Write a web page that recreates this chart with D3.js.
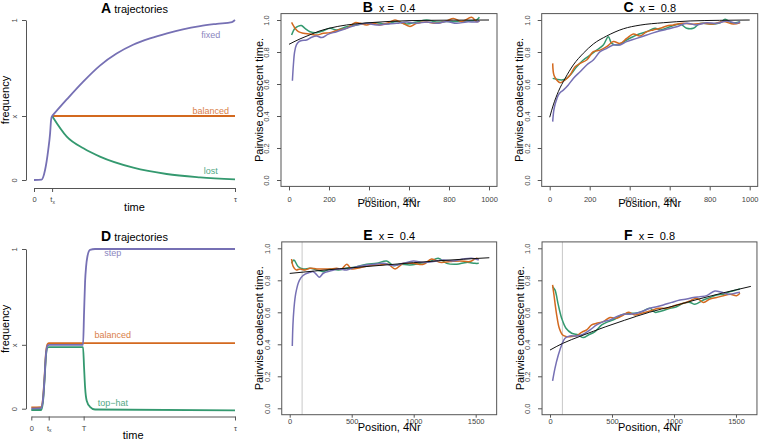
<!DOCTYPE html>
<html><head><meta charset="utf-8">
<script src="https://cdn.jsdelivr.net/npm/d3@7"></script>
<style>
body{margin:0;background:#fff}
svg{display:block}
text{font-family:"Liberation Sans",Arial,Helvetica,sans-serif;white-space:pre}
</style>
</head><body>
<svg id="c" width="760" height="442"></svg>
<script>
// ---------------- DATA ----------------
// Trajectory panels: time as fraction of tau, frequency 0..1
const xFreq = 0.4;
const A_tx = 0.09;
const A_rise = [[0,0],[0.038,0.003],[0.055,0.0625],[0.071,0.19],[0.080,0.29],[0.085,0.375],[0.090,0.4]];
const A_fixed = [[0.090,0.4],[0.164,0.505],[0.245,0.615],[0.328,0.715],[0.411,0.79],[0.493,0.845],[0.577,0.885],[0.662,0.917],[0.741,0.942],[0.826,0.962],[0.910,0.976],[0.985,0.987],[1.0,1.0]];
const A_balanced = [[0.090,0.4],[1.0,0.4]];
const A_lost = [[0.090,0.4],[0.163,0.271],[0.246,0.198],[0.328,0.146],[0.494,0.077],[0.660,0.0375],[0.826,0.017],[1.0,0.004]];
const A_labels = [["fixed",0.88,0.885],["balanced",0.88,0.41],["lost",0.88,0.04]];

const D_tx = 0.0854, D_T = 0.257;
const D_balanced = [[0,0.008],[0.048,0.01],[0.057,0.06],[0.065,0.2],[0.072,0.35],[0.080,0.405],[0.087,0.41],[1.0,0.41]];
const D_step = [[0,0],[0.048,0.003],[0.057,0.05],[0.065,0.19],[0.072,0.34],[0.080,0.395],[0.087,0.4],[0.254,0.4],[0.259,0.6],[0.264,0.795],[0.269,0.89],[0.275,0.95],[0.288,0.995],[0.313,1.0],[1.0,1.0]];
const D_tophat = [[0,-0.008],[0.048,-0.008],[0.057,0.04],[0.065,0.18],[0.072,0.33],[0.080,0.383],[0.087,0.385],[0.254,0.385],[0.259,0.26],[0.264,0.135],[0.272,0.05],[0.288,0.012],[0.313,-0.005],[1.0,-0.01]];
const D_labels = [["step",0.4,0.955],["balanced",0.4,0.44],["top\u2212hat",0.4,0.02]];

const trajYTicks = [0, xFreq, 1];
const trajYLabels = ["0","x","1"];

// Coalescent panels: [position 4Nr, pairwise coalescent time]
const B_theory = [[0,0.848],[50,0.879],[100,0.905],[150,0.93],[200,0.948],[288,0.969],[400,0.983],[500,0.991],[600,0.996],[800,0.999],[1000,1.0]];
const B_purple = [[17,0.62],[22,0.72],[28,0.8],[37,0.845],[50,0.865],[65,0.872],[88,0.875],[113,0.892],[138,0.9],[163,0.89],[197,0.912],[238,0.927],[288,0.948],[338,0.969],[388,0.979],[438,0.969],[488,0.975],[538,0.979],[588,0.988],[638,0.979],[688,0.988],[738,0.979],[788,0.99],[838,0.979],[888,0.988],[938,0.988],[952,0.994]];
const B_orange = [[13,0.985],[22,0.965],[30,0.948],[47,0.927],[72,0.917],[105,0.912],[138,0.906],[172,0.917],[205,0.921],[247,0.938],[288,0.948],[330,0.983],[355,0.979],[388,0.969],[422,0.979],[455,0.969],[497,0.983],[530,1.0],[563,0.983],[605,0.96],[638,0.979],[688,0.988],[738,0.979],[788,0.994],[822,1.01],[863,0.99],[913,1.017],[938,0.99],[952,0.994]];
const B_green = [[13,0.906],[30,0.948],[47,0.962],[62,0.965],[80,0.948],[105,0.927],[138,0.921],[172,0.933],[205,0.948],[238,0.938],[288,0.958],[338,0.969],[388,0.979],[438,0.983],[488,0.975],[538,0.99],[588,0.975],[638,0.988],[688,1.0],[738,0.988],[788,0.99],[838,0.99],[888,0.994],[938,1.0],[952,1.017]];

const C_theory = [[0,0.392],[18,0.469],[43,0.552],[77,0.635],[118,0.719],[168,0.792],[218,0.85],[285,0.9],[368,0.945],[452,0.968],[568,0.983],[702,0.994],[850,0.998],[1000,1.0]];
const C_purple = [[15,0.365],[20,0.43],[26,0.469],[35,0.505],[43,0.531],[55,0.55],[68,0.562],[93,0.594],[118,0.635],[152,0.677],[185,0.719],[218,0.75],[252,0.802],[285,0.823],[318,0.844],[352,0.844],[385,0.865],[435,0.885],[485,0.906],[535,0.927],[585,0.942],[635,0.958],[685,0.979],[735,0.969],[785,0.983],[835,0.979],[885,0.994],[935,0.979],[952,0.99]];
const C_orange = [[15,0.729],[21,0.656],[35,0.625],[52,0.608],[77,0.625],[102,0.656],[127,0.708],[152,0.729],[185,0.75],[218,0.802],[252,0.812],[285,0.833],[318,0.865],[352,0.854],[385,0.885],[418,0.912],[452,0.9],[485,0.927],[518,0.938],[552,0.948],[585,0.963],[618,0.969],[668,0.979],[718,0.973],[768,0.979],[818,0.975],[868,0.99],[918,0.975],[952,0.983]];
const C_green = [[15,0.635],[35,0.629],[60,0.625],[85,0.635],[110,0.667],[135,0.708],[168,0.75],[202,0.781],[235,0.812],[268,0.844],[293,0.896],[310,0.854],[343,0.844],[385,0.875],[435,0.906],[485,0.927],[527,0.948],[552,0.938],[602,0.958],[652,0.975],[685,0.948],[718,0.948],[752,0.979],[802,0.975],[852,0.983],[877,1.004],[910,0.983],[952,0.99]];

const E_theory = [[0,0.843],[200,0.858],[400,0.872],[728,0.893],[1000,0.91],[1200,0.922],[1400,0.932],[1610,0.941]];
const E_purple = [[21,0.39],[26,0.52],[34,0.62],[45,0.7],[56,0.745],[70,0.785],[90,0.815],[124,0.838],[164,0.85],[191,0.854],[218,0.835],[239,0.819],[271,0.844],[325,0.858],[392,0.871],[460,0.865],[513,0.879],[594,0.892],[675,0.9],[755,0.906],[836,0.892],[917,0.906],[997,0.921],[1078,0.912],[1158,0.917],[1239,0.927],[1320,0.921],[1400,0.933],[1467,0.938],[1525,0.927]];
const E_orange = [[15,0.933],[29,0.885],[51,0.865],[83,0.871],[124,0.865],[164,0.875],[218,0.871],[271,0.871],[325,0.871],[379,0.875],[419,0.871],[460,0.9],[500,0.871],[567,0.879],[648,0.892],[728,0.896],[796,0.9],[850,0.871],[917,0.906],[997,0.906],[1078,0.9],[1145,0.933],[1212,0.912],[1293,0.917],[1373,0.921],[1454,0.917],[1508,0.938],[1525,0.93]];
const E_green = [[15,0.906],[34,0.927],[69,0.885],[110,0.871],[164,0.875],[218,0.865],[271,0.854],[325,0.871],[392,0.865],[460,0.875],[540,0.885],[621,0.9],[702,0.906],[782,0.921],[836,0.892],[890,0.9],[970,0.896],[1051,0.906],[1131,0.917],[1198,0.938],[1266,0.906],[1347,0.9],[1427,0.912],[1494,0.906],[1525,0.906]];

const F_theory = [[0,0.364],[100,0.405],[250,0.452],[450,0.51],[600,0.55],[800,0.6],[1000,0.64],[1200,0.683],[1400,0.722],[1620,0.762]];
const F_purple = [[21,0.171],[40,0.25],[67,0.333],[94,0.396],[121,0.438],[161,0.452],[215,0.452],[269,0.463],[323,0.49],[376,0.521],[430,0.542],[484,0.552],[538,0.573],[591,0.588],[645,0.588],[699,0.594],[753,0.608],[806,0.625],[860,0.635],[914,0.646],[981,0.662],[1048,0.677],[1102,0.683],[1156,0.692],[1210,0.698],[1263,0.704],[1330,0.733],[1384,0.725],[1438,0.713],[1492,0.719],[1532,0.725]];
const F_orange = [[21,0.771],[32,0.708],[54,0.583],[75,0.5],[102,0.458],[134,0.448],[175,0.448],[215,0.454],[255,0.475],[296,0.49],[336,0.521],[376,0.531],[430,0.542],[484,0.567],[538,0.563],[591,0.583],[632,0.6],[685,0.583],[739,0.594],[806,0.608],[874,0.625],[941,0.625],[1008,0.642],[1075,0.656],[1129,0.671],[1183,0.688],[1237,0.662],[1290,0.683],[1344,0.692],[1398,0.704],[1452,0.713],[1505,0.704],[1532,0.719]];
const F_green = [[21,0.76],[40,0.74],[67,0.646],[94,0.563],[129,0.5],[175,0.469],[228,0.458],[269,0.442],[309,0.458],[363,0.479],[417,0.521],[470,0.542],[524,0.558],[578,0.583],[632,0.594],[685,0.594],[739,0.604],[806,0.625],[847,0.6],[900,0.608],[968,0.625],[1021,0.635],[1075,0.656],[1129,0.662],[1169,0.65],[1237,0.677],[1290,0.692],[1344,0.708],[1398,0.713],[1452,0.729],[1505,0.74],[1532,0.746]];

const xTicksShort = [0,200,400,600,800,1000];
const xTicksLong = [0,500,1000,1500];
const yTicksCoal = [0,0.2,0.4,0.6,0.8,1.0];
const recombMark = 100;

// ---------------- STYLE ----------------
const COL = {purple:"#7670b4", orange:"#d3691f", green:"#34996f"};
const AXC = "#555";
const svg = d3.select("#c");

function styleAxis(g){
  g.selectAll("path.domain").attr("stroke",AXC).attr("stroke-width",1);
  g.selectAll(".tick line").attr("stroke",AXC);
  g.selectAll(".tick text").attr("fill","#444").attr("font-size",7.5)
    .attr("font-family",'"Liberation Sans",Arial,Helvetica,sans-serif');
}
function rotateYLabels(g, off){
  g.selectAll(".tick text").attr("x",null).attr("dy",null).attr("y",null)
    .attr("text-anchor","middle").attr("transform",`translate(${-off},0) rotate(-90)`);
}
function title(x, yb, big, small){
  const t = svg.append("text").attr("x",x).attr("y",yb).attr("text-anchor","middle").attr("fill","#000");
  t.append("tspan").attr("font-weight","bold").attr("font-size",14).text(big);
  t.append("tspan").attr("font-size",11).text(small);
}

// ---------------- TRAJECTORY PANELS ----------------
function trajPanel(o){
  const g = svg.append("g");
  const x = d3.scaleLinear().domain([0,1]).range(o.xr);
  const y = d3.scaleLinear().domain([0,1]).range(o.yr);
  const xa = g.append("g").attr("transform",`translate(0,${o.xAxisY})`)
    .call(d3.axisBottom(x).tickValues(o.xticks).tickSize(4).tickSizeOuter(0).tickPadding(6).tickFormat(()=>""));
  styleAxis(xa);
  xa.selectAll(".tick text").each(function(d,i){
    const t = d3.select(this).attr("dy",null).attr("y",14);
    const lab = o.xlabels[i];
    if (lab.indexOf("_")>=0){
      const p = lab.split("_");
      t.append("tspan").text(p[0]);
      t.append("tspan").attr("font-size",5).attr("dy",1.5).text(p[1]);
    } else t.text(lab);
  });
  const ya = g.append("g").attr("transform",`translate(${o.yAxisX},0)`)
    .call(d3.axisLeft(y).tickValues(trajYTicks).tickSize(4).tickSizeOuter(0).tickFormat((d,i)=>trajYLabels[i]));
  styleAxis(ya);
  rotateYLabels(ya, 9.3);
  const line = d3.line().x(d=>x(d[0])).y(d=>y(d[1])).curve(d3.curveMonotoneX);
  o.series.forEach(s=>{
    g.append("path").datum(s.data).attr("d",line).attr("fill","none")
      .attr("stroke",s.color).attr("stroke-width",1.8).attr("stroke-linejoin","round");
  });
  o.labels.forEach((l,i)=>{
    g.append("text").attr("x",x(l[1])).attr("y",y(l[2])).attr("text-anchor","middle")
      .attr("font-size",9).attr("fill",o.labelColors[i]).attr("opacity",0.85).text(l[0]);
  });
  g.append("text").attr("x",(o.xr[0]+o.xr[1])/2).attr("y",o.xAxisY+22.5).attr("text-anchor","middle")
    .attr("font-size",11).text("time");
  g.append("text").attr("transform",`translate(8.5,${(o.yr[0]+o.yr[1])/2}) rotate(-90)`)
    .attr("text-anchor","middle").attr("font-size",11).text("frequency");
  title(134.5, o.titleY, o.tl, " trajectories");
}

trajPanel({xr:[34,235], yr:[180,20], xAxisY:188, yAxisX:26, titleY:12.7, tl:"A",
  xticks:[0,A_tx,1], xlabels:["0","t_x","\u03c4"],
  series:[{data:A_balanced,color:COL.orange},{data:A_lost,color:COL.green},{data:A_rise,color:COL.purple},{data:A_fixed,color:COL.purple}],
  labels:A_labels, labelColors:[COL.purple,COL.orange,COL.green]});

trajPanel({xr:[31.3,235], yr:[408.7,249], xAxisY:416.5, yAxisX:26, titleY:241, tl:"D",
  xticks:[0,D_tx,D_T,1], xlabels:["0","t_x","T","\u03c4"],
  series:[{data:D_balanced,color:COL.orange},{data:D_tophat,color:COL.green},{data:D_step,color:COL.purple}],
  labels:D_labels, labelColors:[COL.purple,COL.orange,COL.green]});

// ---------------- COALESCENT PANELS ----------------
function coalPanel(o){
  const g = svg.append("g");
  const x = d3.scaleLinear().domain(o.xlim).range(o.xr);
  const y = d3.scaleLinear().domain([0,1]).range(o.yr);
  const dx = (o.xlim[1]-o.xlim[0])*0.04;
  const bl = x(o.xlim[0]-dx), br = x(o.xlim[1]+dx), bt = y(1.04), bb = y(-0.04);
  const xa = g.append("g").attr("transform",`translate(0,${bb})`)
    .call(d3.axisBottom(x).tickValues(o.xticks).tickSize(o.tickLen).tickFormat(d3.format("d")));
  xa.select(".domain").remove();
  styleAxis(xa);
  xa.selectAll(".tick text").attr("dy",null).attr("y",o.tickLabY);
  const ya = g.append("g").attr("transform",`translate(${bl},0)`)
    .call(d3.axisLeft(y).tickValues(yTicksCoal).tickSize(4).tickFormat(d3.format(".1f")));
  ya.select(".domain").remove();
  styleAxis(ya);
  rotateYLabels(ya, 11.7);
  if (o.vline!==undefined){
    g.append("line").attr("x1",x(o.vline)).attr("x2",x(o.vline)).attr("y1",bt).attr("y2",bb)
      .attr("stroke","#c8c8c8").attr("stroke-width",1);
  }
  const line = d3.line().x(d=>x(d[0])).y(d=>y(d[1])).curve(d3.curveCatmullRom.alpha(0.5));
  const th = d3.line().x(d=>x(d[0])).y(d=>y(d[1])).curve(d3.curveMonotoneX);
  [[o.green,COL.green],[o.orange,COL.orange],[o.purple,COL.purple]].forEach(s=>{
    g.append("path").datum(s[0]).attr("d",line).attr("fill","none")
      .attr("stroke",s[1]).attr("stroke-width",1.5).attr("stroke-linejoin","round");
  });
  g.append("path").datum(o.theory).attr("d",th).attr("fill","none").attr("stroke","#111").attr("stroke-width",1);
  g.append("rect").attr("x",bl).attr("y",bt).attr("width",br-bl).attr("height",bb-bt)
    .attr("fill","none").attr("stroke",AXC).attr("stroke-width",1);
  g.append("text").attr("x",(bl+br)/2).attr("y",bb+o.xlabY).attr("text-anchor","middle")
    .attr("font-size",11).text("Position, 4Nr");
  g.append("text").attr("transform",`translate(${bl-18.4},${(bt+bb)/2}) rotate(-90)`)
    .attr("text-anchor","middle").attr("font-size",11).text("Pairwise coalescent time.");
  title((bl+br)/2, o.titleY, o.tl, "  x =  "+o.xval);
}

coalPanel({xlim:[0,1000], xr:[289,489], yr:[180,20], xticks:xTicksShort, titleY:12, tl:"B", xval:"0.4", tickLen:4, tickLabY:15.6, xlabY:21,
  theory:B_theory, purple:B_purple, orange:B_orange, green:B_green});
coalPanel({xlim:[0,1000], xr:[549.7,749.7], yr:[180,20], xticks:xTicksShort, titleY:12, tl:"C", xval:"0.8", tickLen:4, tickLabY:15.6, xlabY:21,
  theory:C_theory, purple:C_purple, orange:C_orange, green:C_green});
coalPanel({xlim:[0,1605], xr:[289.7,488.7], yr:[408.3,248.3], xticks:xTicksLong, titleY:240, tl:"E", xval:"0.4", tickLen:3, tickLabY:9, xlabY:16,
  theory:E_theory, purple:E_purple, orange:E_orange, green:E_green, vline:recombMark});
coalPanel({xlim:[0,1605], xr:[550,749], yr:[408.3,248.3], xticks:xTicksLong, titleY:240, tl:"F", xval:"0.8", tickLen:3, tickLabY:9, xlabY:16,
  theory:F_theory, purple:F_purple, orange:F_orange, green:F_green, vline:recombMark});
</script>
</body></html>
